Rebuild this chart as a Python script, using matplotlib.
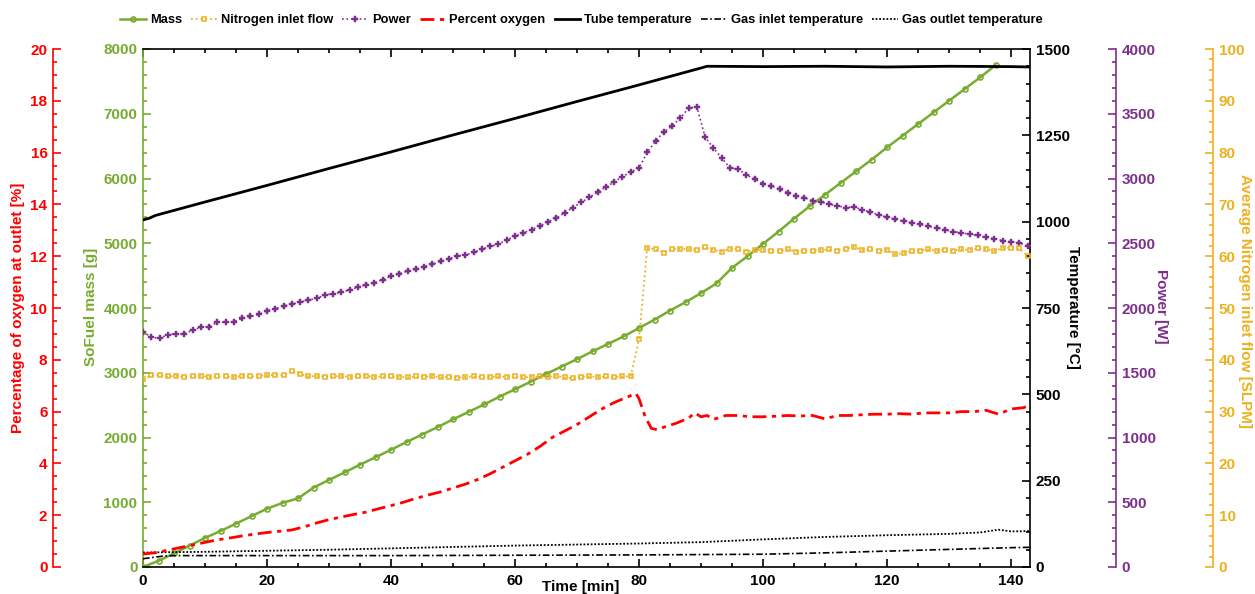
import matplotlib
matplotlib.use('Agg')
import matplotlib.pyplot as plt
from matplotlib.ticker import MultipleLocator

plt.rcParams['font.family'] = ['Liberation Sans', 'DejaVu Sans']
plt.rcParams['font.weight'] = 'bold'

GREEN = '#77AC30'
ORANGE = '#EDB120'
PURPLE = '#7E2F8E'
RED = '#FF0000'

# ---------------- data ----------------
mass_t = [0, 2.5, 5, 7.5, 10, 12.5, 15, 17.5, 20, 22.5, 25, 27.5, 30, 32.5, 35, 37.5,
          40, 42.5, 45, 47.5, 50, 52.5, 55, 57.5, 60, 62.5, 65, 67.5, 70, 72.5, 75, 77.5,
          80, 82.5, 85, 87.5, 90, 92.5, 95, 97.5, 100, 102.5, 105, 107.5, 110, 112.5,
          115, 117.5, 120, 122.5, 125, 127.5, 130, 132.5, 135, 137.5]
mass = [0, 95, 210, 330, 450, 555, 670, 785, 900, 990, 1060, 1225, 1345, 1460, 1580, 1695,
        1810, 1930, 2045, 2160, 2280, 2395, 2510, 2630, 2745, 2860, 2980, 3095, 3210, 3330, 3445, 3560,
        3690, 3820, 3960, 4090, 4230, 4380, 4620, 4800, 4990, 5180, 5380, 5570, 5750, 5930,
        6110, 6290, 6480, 6660, 6840, 7020, 7200, 7380, 7560, 7750]

time_fine = [0, 1.33, 2.67, 4, 5.33, 6.67, 8, 9.33, 10.67, 12,
             13.33, 14.67, 16, 17.33, 18.67, 20, 21.33, 22.67, 24, 25.33,
             26.67, 28, 29.33, 30.67, 32, 33.33, 34.67, 36, 37.33, 38.67,
             40, 41.33, 42.67, 44, 45.33, 46.67, 48, 49.33, 50.67, 52,
             53.33, 54.67, 56, 57.33, 58.67, 60, 61.33, 62.67, 64, 65.33,
             66.67, 68, 69.33, 70.67, 72, 73.33, 74.67, 76, 77.33, 78.67,
             80, 81.33, 82.67, 84, 85.33, 86.67, 88, 89.33, 90.67, 92,
             93.33, 94.67, 96, 97.33, 98.67, 100, 101.33, 102.67, 104, 105.33,
             106.67, 108, 109.33, 110.67, 112, 113.33, 114.67, 116, 117.33, 118.67,
             120, 121.33, 122.67, 124, 125.33, 126.67, 128, 129.33, 130.67, 132,
             133.33, 134.67, 136, 137.33, 138.67, 140, 141.33, 142.67]

power = [1815, 1775, 1765, 1795, 1800, 1800, 1830, 1850, 1855, 1890,
         1890, 1895, 1920, 1935, 1950, 1980, 1995, 2015, 2030, 2045,
         2060, 2075, 2100, 2110, 2120, 2140, 2160, 2180, 2195, 2220,
         2245, 2265, 2285, 2300, 2320, 2340, 2360, 2380, 2400, 2410,
         2430, 2455, 2475, 2495, 2525, 2555, 2580, 2605, 2635, 2665,
         2695, 2735, 2775, 2815, 2855, 2895, 2934, 2973, 3015, 3050,
         3081, 3204, 3289, 3359, 3405, 3467, 3544, 3552, 3320, 3235,
         3158, 3081, 3073, 3027, 2996, 2958, 2942, 2919, 2888, 2865,
         2850, 2830, 2820, 2800, 2790, 2775, 2780, 2760, 2740, 2720,
         2700, 2685, 2670, 2660, 2645, 2630, 2620, 2605, 2590, 2580,
         2570, 2560, 2545, 2535, 2520, 2510, 2505, 2480]

nitrogen = [36.3, 37.0, 37.1, 36.8, 36.9, 36.7, 36.8, 36.9, 36.7, 36.8,
            36.8, 36.7, 36.9, 36.8, 36.9, 37.0, 37.1, 37.0, 37.9, 37.3,
            36.8, 36.9, 36.7, 36.8, 36.9, 36.7, 36.8, 36.9, 36.7, 36.8,
            36.8, 36.7, 36.6, 36.8, 36.7, 36.9, 36.6, 36.7, 36.5, 36.7,
            36.8, 36.6, 36.7, 36.8, 36.7, 36.9, 36.6, 36.7, 36.8, 36.7,
            36.9, 36.6, 36.4, 36.7, 36.8, 36.7, 36.8, 36.7, 36.8, 36.8,
            44.0, 61.6, 61.3, 60.7, 61.4, 61.4, 61.4, 61.2, 61.7, 61.2,
            60.9, 61.4, 61.4, 60.9, 61.2, 61.2, 61.0, 61.0, 61.3, 60.9,
            61.1, 61.0, 61.2, 61.3, 61.1, 61.4, 61.8, 61.2, 61.3, 61.1,
            61.2, 60.4, 60.6, 61.0, 61.1, 61.3, 61.0, 61.2, 61.1, 61.3,
            61.2, 61.5, 61.4, 61.0, 61.6, 61.6, 61.5, 60.1]

o2_t = [0, 2, 4, 6, 8, 10, 12, 14, 16, 18, 20, 22, 24, 26, 28, 30, 32, 34, 36, 38,
        40, 42, 44, 46, 48, 50, 52, 54, 56, 58, 60, 62, 64, 66, 68, 70, 72, 74, 76, 78,
        79.5, 80, 81, 82, 83, 84, 86, 88, 89, 90, 91, 92,
        94, 96, 98, 100, 102, 104, 106, 108, 110, 112, 114, 116, 118, 120, 122, 124,
        126, 128, 130, 132, 134, 136, 138, 140, 142, 143]
oxygen = [0.5, 0.55, 0.65, 0.75, 0.85, 0.95, 1.05, 1.12, 1.2, 1.27,
          1.33, 1.38, 1.43, 1.55, 1.7, 1.83, 1.93, 2.03, 2.12, 2.25,
          2.37, 2.5, 2.65, 2.78, 2.9, 3.05, 3.2, 3.38, 3.6, 3.85,
          4.1, 4.35, 4.65, 5.0, 5.25, 5.5, 5.8, 6.1, 6.35, 6.55,
          6.7, 6.5, 5.8, 5.35, 5.3, 5.4, 5.55, 5.75, 5.95, 5.8, 5.85, 5.7,
          5.85, 5.85, 5.8, 5.8, 5.82, 5.85, 5.83, 5.85, 5.72, 5.85, 5.85, 5.88,
          5.9, 5.9, 5.92, 5.9, 5.95, 5.95, 5.95, 6.0, 6.0, 6.05, 5.9, 6.1, 6.15, 6.25]

tube_t = [0, 1, 2, 10, 20, 30, 40, 50, 60, 70, 80, 90, 91, 100, 110, 120, 130, 140, 143]
tube_temp = [1005, 1010, 1018, 1057, 1105, 1154, 1202, 1251, 1299, 1348, 1396, 1445, 1450,
             1449, 1450, 1448, 1450, 1449, 1448]

inlet_t = [0, 3, 5, 20, 40, 60, 80, 100, 110, 120, 130, 140, 143]
inlet_temp = [24, 31, 33, 33, 33, 34, 35, 37, 41, 46, 51, 56, 57]

outlet_t = [0, 10, 20, 30, 40, 50, 60, 70, 80, 90, 100, 110, 120, 130, 135, 138, 140, 143]
outlet_temp = [42, 44, 47, 50, 54, 58, 62, 65, 68, 72, 80, 87, 92, 96, 100, 108, 103, 104]

x_ticks = [0, 20, 40, 60, 80, 100, 120, 140]

# ---------------- figure ----------------
W_PX, H_PX = 1255, 594
fig = plt.figure(figsize=(W_PX / 100, H_PX / 100), dpi=100)
x0, x1, y0, y1 = 143, 1030, 49, 567
ax = fig.add_axes([x0 / W_PX, 1 - y1 / H_PX, (x1 - x0) / W_PX, (y1 - y0) / H_PX])
axw = x1 - x0

ax_t = ax.twinx()
ax_o = ax.twinx()
ax_p = ax.twinx()
ax_n = ax.twinx()

# data
l_mass, = ax.plot(mass_t, mass, color=GREEN, lw=1.8, marker='o', ms=3.6, mfc='none',
                  mew=1.2, label='Mass')
l_n2, = ax_n.plot(time_fine, nitrogen, color=ORANGE, ls=':', lw=1.3, marker='s', ms=3.0,
                  mfc='none', mew=1.1, label='Nitrogen inlet flow')
l_pow, = ax_p.plot(time_fine, power, color=PURPLE, ls=':', lw=1.2, marker='P', ms=4.0,
                   mew=0.3, label='Power')
l_o2, = ax_o.plot(o2_t, oxygen, color=RED, lw=2.0, ls=(0, (5, 2, 1.5, 2)), label='Percent oxygen')
l_tube, = ax_t.plot(tube_t, tube_temp, color='black', lw=2.0, label='Tube temperature')
l_in, = ax_t.plot(inlet_t, inlet_temp, color='black', lw=1.2, ls=(0, (4, 1.5, 1, 1.5)),
                  label='Gas inlet temperature')
l_out, = ax_t.plot(outlet_t, outlet_temp, color='black', lw=1.3, ls=(0, (1, 1)),
                   label='Gas outlet temperature')

# limits
ax.set_xlim(0, (x1 - x0) / 6.2)
ax.set_ylim(0, 8000)
ax_t.set_ylim(0, 1500)
ax_o.set_ylim(0, 20)
ax_p.set_ylim(0, 4000)
ax_n.set_ylim(0, 100)

SPW = 1.2
MAJ, MIN = 5.5, 3.0
TFS = 11

# host axes: green left, black bottom/top
ax.spines['left'].set_color(GREEN)
ax.spines['right'].set_visible(False)
for s in ('left', 'bottom', 'top'):
    ax.spines[s].set_linewidth(SPW)
ax.set_xticks(x_ticks)
ax.xaxis.set_minor_locator(MultipleLocator(5))
ax.tick_params(axis='x', which='both', direction='in', top=True, bottom=True,
               colors='black', labelsize=TFS, width=SPW, pad=5)
ax.tick_params(axis='x', which='major', length=MAJ)
ax.tick_params(axis='x', which='minor', length=MIN)
ax.yaxis.set_major_locator(MultipleLocator(1000))
ax.yaxis.set_minor_locator(MultipleLocator(200))
ax.tick_params(axis='y', which='both', direction='in', colors=GREEN, labelsize=TFS,
               width=SPW, pad=4, left=True, right=False)
ax.tick_params(axis='y', which='major', length=MAJ)
ax.tick_params(axis='y', which='minor', length=MIN)


def clean_twin(a):
    for s in ('top', 'bottom', 'left', 'right'):
        a.spines[s].set_visible(False)


# temperature: black right spine
clean_twin(ax_t)
ax_t.spines['right'].set_visible(True)
ax_t.spines['right'].set_linewidth(SPW)
ax_t.yaxis.set_major_locator(MultipleLocator(250))
ax_t.yaxis.set_minor_locator(MultipleLocator(50))
ax_t.tick_params(axis='y', which='both', direction='in', colors='black', labelsize=TFS,
                 width=SPW, pad=4)
ax_t.tick_params(axis='y', which='major', length=MAJ)
ax_t.tick_params(axis='y', which='minor', length=MIN)

# oxygen: red left offset spine
clean_twin(ax_o)
ax_o.yaxis.tick_left()
ax_o.spines['left'].set_visible(True)
ax_o.spines['left'].set_position(('axes', -(143 - 53) / axw))
ax_o.spines['left'].set_color(RED)
ax_o.spines['left'].set_linewidth(SPW)
ax_o.yaxis.set_major_locator(MultipleLocator(2))
ax_o.yaxis.set_minor_locator(MultipleLocator(0.5))
ax_o.tick_params(axis='y', which='both', direction='in', colors=RED, labelsize=TFS,
                 width=SPW, pad=4)
ax_o.tick_params(axis='y', which='major', length=MAJ)
ax_o.tick_params(axis='y', which='minor', length=MIN)

# power: purple right offset spine
clean_twin(ax_p)
ax_p.spines['right'].set_visible(True)
ax_p.spines['right'].set_position(('axes', 1 + (1116 - 1030) / axw))
ax_p.spines['right'].set_color(PURPLE)
ax_p.spines['right'].set_linewidth(SPW)
ax_p.yaxis.set_major_locator(MultipleLocator(500))
ax_p.yaxis.set_minor_locator(MultipleLocator(100))
ax_p.tick_params(axis='y', which='both', direction='in', colors=PURPLE, labelsize=TFS,
                 width=SPW, pad=4)
ax_p.tick_params(axis='y', which='major', length=MAJ)
ax_p.tick_params(axis='y', which='minor', length=MIN)

# nitrogen: orange right offset spine
clean_twin(ax_n)
ax_n.spines['right'].set_visible(True)
ax_n.spines['right'].set_position(('axes', 1 + (1213 - 1030) / axw))
ax_n.spines['right'].set_color(ORANGE)
ax_n.spines['right'].set_linewidth(SPW)
ax_n.yaxis.set_major_locator(MultipleLocator(10))
ax_n.yaxis.set_minor_locator(MultipleLocator(2))
ax_n.tick_params(axis='y', which='both', direction='in', colors=ORANGE, labelsize=TFS,
                 width=SPW, pad=4)
ax_n.tick_params(axis='y', which='major', length=MAJ)
ax_n.tick_params(axis='y', which='minor', length=MIN)

for a in (ax, ax_t, ax_o, ax_p, ax_n):
    for lab in a.get_yticklabels() + a.get_xticklabels():
        lab.set_fontweight('bold')

# axis labels as figure text
LFS = 11
fig.text(18 / W_PX, 1 - 308 / H_PX, 'Percentage of oxygen at outlet [%]', color=RED,
         rotation=90, ha='center', va='center', fontsize=LFS, fontweight='bold')
fig.text(91 / W_PX, 1 - 307 / H_PX, 'SoFuel mass [g]', color=GREEN,
         rotation=90, ha='center', va='center', fontsize=LFS, fontweight='bold')
fig.text(1073 / W_PX, 1 - 307 / H_PX, 'Temperature [°C]', color='black',
         rotation=270, ha='center', va='center', fontsize=LFS, fontweight='bold')
fig.text(1161 / W_PX, 1 - 306 / H_PX, 'Power [W]', color=PURPLE,
         rotation=270, ha='center', va='center', fontsize=LFS, fontweight='bold')
fig.text(1245 / W_PX, 1 - 301 / H_PX, 'Average Nitrogen inlet flow [SLPM]', color=ORANGE,
         rotation=270, ha='center', va='center', fontsize=LFS, fontweight='bold')
fig.text(581 / W_PX, 1 - 587 / H_PX, 'Time [min]', color='black',
         ha='center', va='center', fontsize=LFS, fontweight='bold')

# legend
handles = [l_mass, l_n2, l_pow, l_o2, l_tube, l_in, l_out]
fig.legend(handles=handles, labels=[h.get_label() for h in handles], loc='center',
           bbox_to_anchor=((115 + 1048) / 2 / W_PX, 1 - 20 / H_PX), ncol=7, frameon=False,
           prop={'size': 9.3, 'weight': 'bold'}, handlelength=2.0, handletextpad=0.3,
           columnspacing=0.7, borderaxespad=0)

fig.savefig('out.png', dpi=100)
